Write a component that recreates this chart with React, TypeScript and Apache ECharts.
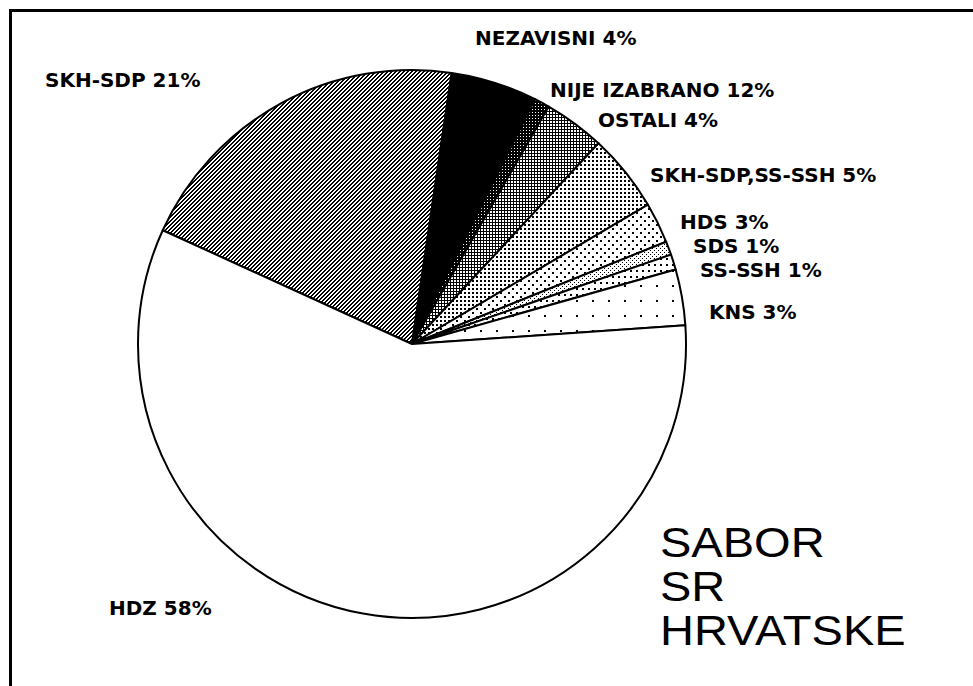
import React, { useEffect, useRef } from "react";
import * as echarts from "echarts";

// ---- data ----
const parties = [
  "SKH-SDP",
  "NEZAVISNI",
  "NIJE IZABRANO",
  "OSTALI",
  "SKH-SDP,SS-SSH",
  "HDS",
  "SDS",
  "SS-SSH",
  "KNS",
  "HDZ",
];
// slice sizes as drawn (percent of the circle)
const shares = [20.5, 5.1, 0.9, 3.6, 4.6, 2.4, 0.8, 0.9, 3.3, 57.9];
// percentages printed in the labels
const labelPercents = [21, 4, 12, 4, 5, 3, 1, 1, 3, 58];
const titleLines = ["SABOR", "SR", "HRVATSKE"];

// ---- layout (not data) ----
const labelAnchors: [number, number][] = [
  [45, 80],
  [475, 38],
  [550, 90],
  [598, 120],
  [650, 175],
  [680, 222],
  [693, 246],
  [700, 270],
  [709, 312],
  [109, 608],
];

type Tile = { w: number; h: number; rects: [number, number, number, number][]; holes?: [number, number][] };

const tiles: Tile[] = [
  // SKH-SDP: "/" diagonal hatching
  {
    w: 4,
    h: 4,
    rects: [
      [3, 0, 1, 1], [2, 1, 1, 1], [1, 2, 1, 1], [0, 3, 1, 1],
      [2, 0, 1, 1], [1, 1, 1, 1], [0, 2, 1, 1], [3, 3, 1, 1],
    ],
  },
  // NEZAVISNI: solid black
  { w: 2, h: 2, rects: [[0, 0, 2, 2]] },
  // NIJE IZABRANO: black with white dots
  { w: 3, h: 3, rects: [[0, 0, 3, 3]], holes: [[1, 1]] },
  // OSTALI: cross hatch grid
  { w: 3, h: 3, rects: [[0, 0, 3, 1], [0, 0, 1, 3]] },
  // SKH-SDP,SS-SSH: dense dots
  { w: 4, h: 4, rects: [[0, 0, 2, 2]] },
  // HDS: lighter dots
  { w: 8, h: 8, rects: [[0, 0, 2, 2], [4, 4, 2, 2]] },
  // SDS
  { w: 4, h: 4, rects: [[0, 0, 1, 1], [2, 2, 1, 1]] },
  // SS-SSH
  { w: 6, h: 6, rects: [[0, 0, 2, 2]] },
  // KNS: sparse dots
  { w: 16, h: 15, rects: [[0, 0, 2, 2]] },
  // HDZ: white
  { w: 2, h: 2, rects: [] },
];

function makePattern(t: Tile): any {
  const c = document.createElement("canvas");
  c.width = t.w;
  c.height = t.h;
  const ctx = c.getContext("2d")!;
  ctx.fillStyle = "#fff";
  ctx.fillRect(0, 0, t.w, t.h);
  ctx.fillStyle = "#000";
  for (const [x, y, w, h] of t.rects) ctx.fillRect(x, y, w, h);
  ctx.fillStyle = "#fff";
  for (const [x, y] of t.holes || []) ctx.fillRect(x, y, 1, 1);
  return { image: c.toDataURL(), repeat: "repeat", imageWidth: t.w, imageHeight: t.h };
}

export default function App() {
  const ref = useRef<HTMLDivElement>(null);

  useEffect(() => {
    document.body.style.margin = "0";
    if (!ref.current) return;
    const chart = echarts.init(ref.current, null, { renderer: "svg" });

    const data = parties.map((name, i) => ({
      name,
      value: shares[i],
      itemStyle: { color: makePattern(tiles[i]) },
    }));

    chart.setOption({
      animation: false,
      backgroundColor: "#fff",
      series: [
        {
          type: "pie",
          center: [412, 344],
          radius: 274,
          startAngle: 155.47,
          clockwise: true,
          silent: true,
          avoidLabelOverlap: false,
          data,
          itemStyle: { borderColor: "#000", borderWidth: 2 },
          label: {
            show: true,
            position: "outside",
            formatter: (p: any) => `${p.name} ${labelPercents[p.dataIndex]}%`,
            fontFamily: "DejaVu Sans",
            fontWeight: "bold",
            fontSize: 20,
            color: "#000",
          },
          labelLine: { show: false },
          labelLayout: (params: any) => {
            const [x, y] = labelAnchors[params.dataIndex];
            return { x, y, align: "left", verticalAlign: "middle" };
          },
        },
      ],
      graphic: [
        {
          type: "rect",
          silent: true,
          shape: { x: 10.5, y: 10.5, width: 1200, height: 1200 },
          style: { fill: "none", stroke: "#000", lineWidth: 3 },
        },
        {
          type: "text",
          silent: true,
          x: 660,
          y: 586,
          scaleX: 1.12,
          style: {
            text: titleLines.join("\n"),
            fontFamily: "Liberation Sans",
            fontSize: 42,
            lineHeight: 44,
            fill: "#000",
            align: "left",
            verticalAlign: "middle",
          },
        },
      ],
    });

    return () => chart.dispose();
  }, []);

  return <div ref={ref} style={{ width: 973, height: 686 }} />;
}
